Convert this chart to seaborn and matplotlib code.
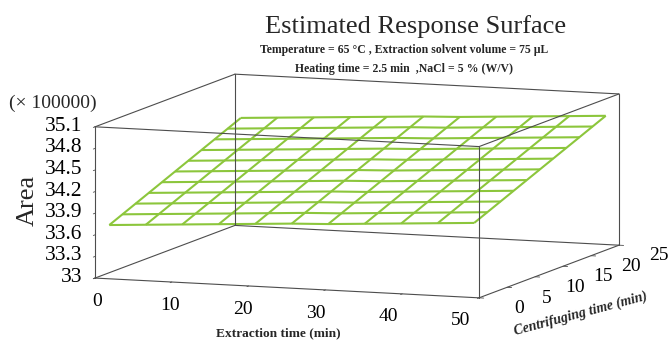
import numpy as np
import seaborn as sns
import matplotlib.pyplot as plt
from mpl_toolkits.mplot3d import proj3d

# grid of the fitted surface
extraction_time = [1.5, 6.25, 11.0, 15.75, 20.5, 25.25, 30.0, 34.75, 39.5, 44.25, 49.0]
centrifuging_time = [0.5, 2.85, 5.2, 7.55, 9.9, 12.25, 14.6, 16.95, 19.3, 21.65, 24.0]

# Area (x 100000), one row per centrifuging time
area = [
    [33.73, 33.76, 33.79, 33.82, 33.85, 33.88, 33.90, 33.93, 33.96, 33.99, 34.02],
    [33.81, 33.84, 33.87, 33.90, 33.93, 33.96, 33.98, 34.01, 34.04, 34.07, 34.10],
    [33.89, 33.92, 33.95, 33.98, 34.01, 34.04, 34.06, 34.09, 34.12, 34.15, 34.18],
    [33.97, 34.00, 34.03, 34.06, 34.09, 34.12, 34.14, 34.17, 34.20, 34.23, 34.26],
    [34.05, 34.08, 34.11, 34.14, 34.17, 34.20, 34.22, 34.25, 34.28, 34.31, 34.34],
    [34.13, 34.16, 34.19, 34.22, 34.25, 34.28, 34.30, 34.33, 34.36, 34.39, 34.42],
    [34.21, 34.24, 34.27, 34.30, 34.33, 34.36, 34.38, 34.41, 34.44, 34.47, 34.50],
    [34.29, 34.32, 34.35, 34.38, 34.41, 34.44, 34.46, 34.49, 34.52, 34.55, 34.58],
    [34.37, 34.40, 34.43, 34.46, 34.49, 34.52, 34.54, 34.57, 34.60, 34.63, 34.66],
    [34.45, 34.48, 34.51, 34.54, 34.57, 34.60, 34.62, 34.65, 34.68, 34.71, 34.74],
    [34.53, 34.56, 34.59, 34.62, 34.65, 34.68, 34.70, 34.73, 34.76, 34.79, 34.82],
]

x_ticks = [0, 10, 20, 30, 40, 50]
y_ticks = [0, 5, 10, 15, 20, 25]
z_ticks = [33, 33.3, 33.6, 33.9, 34.2, 34.5, 34.8, 35.1]
z_tick_labels = ["33", "33.3", "33.6", "33.9", "34.2", "34.5", "34.8", "35.1"]

GREEN = "#8cc63c"
EDGE = "#4d4d4d"
W, H = 670, 346

sns.set_style("white")
plt.rcParams["font.family"] = ["Liberation Serif", "DejaVu Serif"]

fig = plt.figure(figsize=(W / 100, H / 100), dpi=100)
side = 700
cx, cy = 357, H - 186
ax = fig.add_axes([(cx - side / 2) / W, (cy - side / 2) / H, side / W, side / H],
                  projection="3d", computed_zorder=False)

ax.set_proj_type("ortho")
ax.view_init(elev=8, azim=-69.7)
ax.set_xlim(x_ticks[0], x_ticks[-1])
ax.set_ylim(y_ticks[0], y_ticks[-1])
ax.set_zlim(z_ticks[0], z_ticks[-1])
aspect = (1, 0.985, 0.373)
ax.set_box_aspect(aspect, zoom=1.0)

E, C = np.meshgrid(extraction_time, centrifuging_time)
ax.plot_wireframe(E, C, np.array(area), color=GREEN, linewidth=1.5)

# box outline
xl, yl, zl = ax.get_xlim(), ax.get_ylim(), ax.get_zlim()
for y in yl:
    for z in zl:
        ax.plot(xl, [y, y], [z, z], color=EDGE, lw=0.8)
for x in xl:
    for z in zl:
        ax.plot([x, x], yl, [z, z], color=EDGE, lw=0.8)
for x in xl:
    for y in yl:
        ax.plot([x, x], [y, y], zl, color=EDGE, lw=0.8)

ax.grid(False)
ax.zaxis.set_ticks_position("lower")
ax.set_xticks(x_ticks)
ax.set_yticks(y_ticks)
ax.set_zticks(z_ticks)
ax.tick_params(colors=EDGE)
for axis in (ax.xaxis, ax.yaxis, ax.zaxis):
    axis.set_pane_color((1, 1, 1, 0))
    axis.pane.set_edgecolor((1, 1, 1, 0))
    axis.line.set_color((0, 0, 0, 0))
    axis.label.set_visible(False)
    axis._axinfo["tick"]["inward_factor"] = 0.15
    axis._axinfo["tick"]["outward_factor"] = 0.0
    axis._axinfo["tick"]["linewidth"] = {True: 0.6, False: 0.5}
    for t in axis.get_major_ticks():
        t.label1.set_visible(False)
        t.label2.set_visible(False)


def to_px(x, y, z):
    px, py, _ = proj3d.proj_transform(x, y, z, ax.get_proj())
    return ax.transData.transform((px, py))


# fit the box to where it sits in the reference
fig.canvas.draw()
a, b = to_px(xl[0], yl[0], zl[0]), to_px(xl[1], yl[1], zl[1])
ax.set_box_aspect(aspect, zoom=(619 - 95) / (b[0] - a[0]))
fig.canvas.draw()
a, b = to_px(xl[0], yl[0], zl[0]), to_px(xl[1], yl[1], zl[1])
dx = (95 + 619) / 2 - (a[0] + b[0]) / 2
dy = ((H - 279) + (H - 93)) / 2 - (a[1] + b[1]) / 2
pos = ax.get_position(original=True)
ax.set_position([pos.x0 + dx / W, pos.y0 + dy / H, pos.width, pos.height])
fig.canvas.draw()


def label_at(x, y, z, text, **kw):
    px, py = to_px(x, y, z)
    fig.text(px / W, py / H, text, color="black", **kw)


# tick labels, projected from the 3D axes
for v in x_ticks:
    # the original labels sit a bit inside their ticks
    label_at(v * 0.948 + 0.25, yl[0], zl[0] - 0.33, str(v), ha="center", va="center", fontsize=14)
for v in y_ticks:
    label_at(xl[1] + 5.2, v, zl[0] - 0.12, str(v), ha="center", va="center", fontsize=14)
for v, lab in zip(z_ticks, z_tick_labels):
    label_at(xl[0] - 1.6, yl[0], v, lab, ha="right", va="center", fontsize=15.5)

fig.text(416 / W, 1 - 33 / H, "Estimated Response Surface", ha="center", va="baseline", fontsize=19)
fig.text(404 / W, 1 - 53 / H, "Temperature = 65 \u00b0C , Extraction solvent volume = 75 \u00b5L",
         ha="center", va="baseline", fontsize=8.5, fontweight="bold")
fig.text(404 / W, 1 - 72 / H, "Heating time = 2.5 min  ,NaCl = 5 % (W/V)",
         ha="center", va="baseline", fontsize=8.5, fontweight="bold")
fig.text(53 / W, 1 - 103 / H, "(\u00d7 100000)", ha="center", va="center", fontsize=14)
fig.text(28 / W, 1 - 200 / H, "Area", ha="center", va="center", rotation=90, fontsize=19)
fig.text(278 / W, 1 - 333 / H, "Extraction time (min)", ha="center", va="center",
         fontsize=9.6, fontweight="bold")
fig.text(581 / W, 1 - 314 / H, "Centrifuging time (min)", ha="center", va="center",
         fontsize=10, fontweight="bold", style="italic", rotation=15)

fig.savefig("out.png", dpi=100)
plt.close(fig)
